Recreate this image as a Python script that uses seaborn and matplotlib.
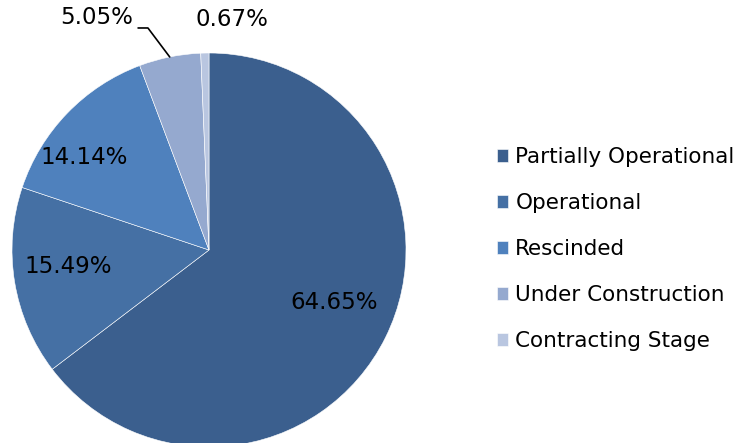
import numpy as np
import matplotlib.pyplot as plt
import seaborn as sns

sns.set_theme(style="white")
plt.rcParams['font.family'] = ['DejaVu Sans']

# data
categories = ["Partially Operational", "Operational", "Rescinded",
              "Under Construction", "Contracting Stage"]
shares = [64.65, 15.49, 14.14, 5.05, 0.67]
labels = ["64.65%", "15.49%", "14.14%", "5.05%", "0.67%"]
colors = sns.color_palette(["#3B5F8E", "#4570A4", "#4F81BD", "#95A9CF", "#B9C6E0"])

W, H = 754, 443
fig = plt.figure(figsize=(W / 100, H / 100), dpi=100)

# pie centre at (209, 250) px from top-left, radius 197 px
R = 197.0
cx, cy = 209.0, H - 250.0
ax = fig.add_axes([0, 0, 418 / W, 1])
wedges, texts = ax.pie(shares, colors=colors, startangle=90, counterclock=False,
                       wedgeprops=dict(edgecolor="white", linewidth=0.4))
ax.set_aspect("auto")
ax.set_xlim(-cx / R, (418 - cx) / R)
ax.set_ylim(-cy / R, (H - cy) / R)

fs = 16.5
# labels inside the three big wedges (distance, angle nudge like Excel best fit)
dist = [0.69, 0.72, 0.79]
nudge = [3.5, -2.5, 7.6]
for w, lab, d, n in zip(wedges[:3], labels[:3], dist, nudge):
    ang = np.deg2rad((w.theta1 + w.theta2) / 2 + n)
    ax.text(d * np.cos(ang), d * np.sin(ang), lab, ha="center", va="center",
            fontsize=fs, color="black")

# small slices labelled outside
ang = np.deg2rad((wedges[3].theta1 + wedges[3].theta2) / 2)
x0, y0 = np.cos(ang), np.sin(ang)
ax.plot([x0, -0.31, -0.36], [y0, 1.127, 1.127], color="black", lw=1.2, clip_on=False)
ax.text(-0.386, 1.178, labels[3], ha="right", va="center", fontsize=fs, color="black")
ax.text(0.117, 1.17, labels[4], ha="center", va="center", fontsize=fs, color="black")

leg = fig.legend(wedges, categories, loc="center left", frameon=False,
                 bbox_to_anchor=(497 / W, 194 / H), borderpad=0, borderaxespad=0,
                 fontsize=15.5, handlelength=0.52, handleheight=0.52,
                 handletextpad=0.33, labelspacing=1.21)
for t in leg.get_texts():
    t.set_color("black")

fig.savefig("out.png", dpi=100)
